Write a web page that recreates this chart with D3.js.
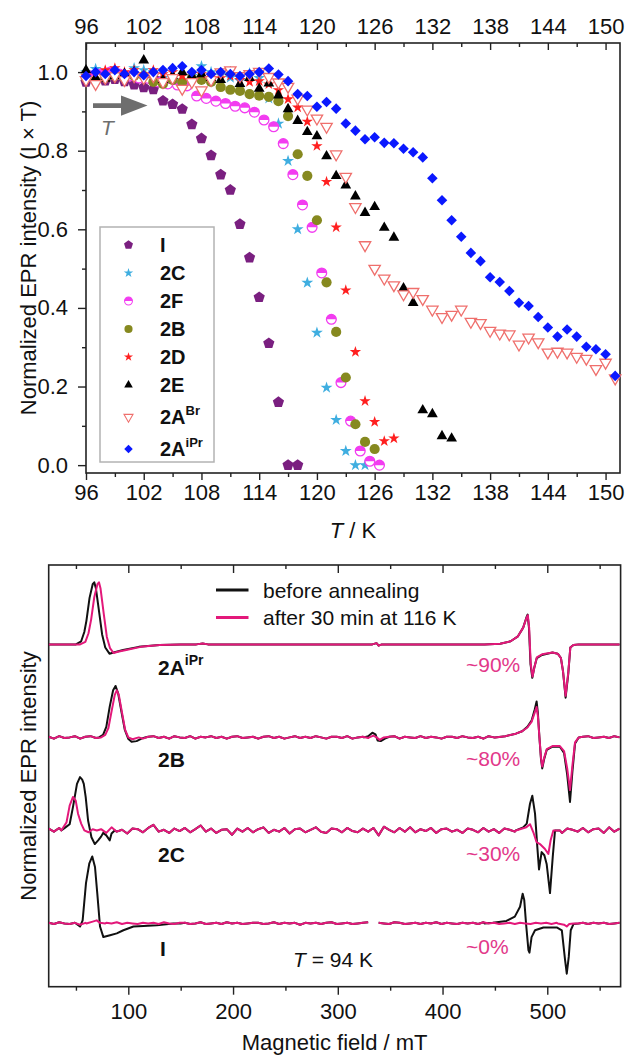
<!DOCTYPE html>
<html>
<head>
<meta charset="utf-8">
<script src="https://cdn.jsdelivr.net/npm/d3@7"></script>
<style>
  body { margin: 0; background: #fff; }
  svg { display: block; font-family: "Liberation Sans", Arial, Helvetica, sans-serif; }
</style>
</head>
<body>
<svg id="fig" width="627" height="1057"></svg>
<script>
// ================= Data: normalized EPR intensity (I x T) vs temperature =================
const seriesKeys = ["I", "2C", "2F", "2B", "2D", "2E", "2ABr", "2AiPr"];
const seriesStart = { "I": 96, "2C": 96, "2F": 96.5, "2B": 96, "2D": 96, "2E": 96, "2ABr": 96, "2AiPr": 96 }; // K, 1 K steps

const valI = [0.975,0.985,0.978,0.982,0.976,0.968,0.961,0.956,0.927,0.918,0.906,0.867,0.831,0.788,0.739,0.700,
  0.613,0.528,0.427,0.310,0.160,0.000,0.000];
const val2C = [1.000,1.008,0.990,1.002,0.992,1.010,1.005,1.000,0.985,0.972,0.976,0.990,1.015,1.000,0.992,0.986,
  0.978,0.997,0.985,0.933,0.869,0.774,0.600,0.464,0.337,0.197,0.115,0.036,0.000,0.000];
const val2F = [0.990,0.995,1.000,0.995,0.990,0.985,0.984,0.975,0.970,0.967,0.965,0.939,0.933,0.926,0.920,0.913,
  0.909,0.898,0.878,0.861,0.818,0.739,0.662,0.605,0.489,0.371,0.210,0.112,0.036,0.010,0.000];
const val2B = [0.985,0.978,0.985,0.990,0.985,0.990,0.990,0.975,0.970,0.980,0.975,0.985,0.980,0.975,0.962,0.955,
  0.952,0.944,0.940,0.937,0.926,0.888,0.791,0.736,0.623,0.465,0.339,0.223,0.104,0.059,0.041];
const val2D = [0.990,0.995,1.005,1.010,1.000,1.005,0.995,1.005,0.995,1.000,0.990,0.995,0.995,0.990,0.985,0.990,
  0.980,0.975,0.977,0.969,0.954,0.931,0.910,0.874,0.812,0.721,0.605,0.445,0.288,0.163,0.110,0.061,0.068];
const val2E = [1.005,0.985,0.983,0.990,0.995,1.000,1.030,0.995,0.980,0.990,1.000,0.990,0.995,0.985,0.980,1.000,
  0.970,0.985,0.958,0.971,0.941,0.906,0.876,0.848,0.837,0.786,0.736,0.712,0.684,0.642,0.657,0.604,0.579,0.450,
  0.413,0.140,0.130,0.074,0.068];
const val2ABr = [0.980,0.970,0.985,0.990,0.980,0.990,0.985,0.990,0.975,0.985,0.958,0.975,0.954,0.980,1.000,1.005,
  0.990,0.995,1.001,0.988,0.974,0.963,0.933,0.905,0.882,0.861,0.791,0.734,0.657,0.560,0.500,0.475,0.458,0.435,
  0.441,0.423,0.396,0.377,0.383,0.396,0.365,0.362,0.342,0.335,0.333,0.307,0.325,0.313,0.287,0.289,0.287,0.276,
  0.271,0.245,0.261,0.221];
const val2AiPr = [0.990,1.000,0.995,1.005,0.995,1.000,0.992,1.000,1.005,1.010,1.015,1.000,1.005,0.995,1.000,0.995,
  0.990,0.995,1.000,1.009,0.994,0.977,0.944,0.939,0.912,0.924,0.907,0.869,0.851,0.829,0.834,0.820,0.819,0.805,
  0.796,0.783,0.730,0.674,0.623,0.581,0.540,0.519,0.478,0.466,0.443,0.413,0.405,0.377,0.350,0.327,0.345,0.327,
  0.301,0.295,0.282,0.227];
const seriesValues = { "I": valI, "2C": val2C, "2F": val2F, "2B": val2B, "2D": val2D, "2E": val2E, "2ABr": val2ABr, "2AiPr": val2AiPr };

const tempMajorTicks = [96,102,108,114,120,126,132,138,144,150];
const tempMinorTicks = [99,105,111,117,123,129,135,141,147];
const intMajorTicks = [0,0.2,0.4,0.6,0.8,1.0];
const intMinorTicks = [0.1,0.3,0.5,0.7,0.9];

// ================= Data: EPR spectra before / after annealing (T = 94 K) =================
const spectraRows = ["2AiPr", "2B", "2C", "I"];
const rowOffset = { "2AiPr": 4.5, "2B": 3.0, "2C": 1.5, "I": 0 };
const rowPercent = { "2AiPr": "~90%", "2B": "~80%", "2C": "~30%", "I": "~0%" };

// baseline noise, sampled every 5 mT starting at 24 mT
const noiseStartField = 24, noiseStepField = 5;
const noise2B = [0.01,-0.02,0.02,-0.01,0.00,0.02,-0.02,0.01,0.02,-0.01,
  0.01,-0.02,0.02,0.00,-0.01,0.02,-0.01,0.01,-0.02,0.01,
  0.02,-0.01,0.01,-0.02,0.02,0.00,-0.01,0.02,-0.02,0.01,
  0.00,0.02,-0.01,0.01,-0.02,0.01,0.02,-0.01,0.00,0.01,
  -0.02,0.01,0.02,-0.01,0.01,-0.02,0.00,0.02,-0.01,0.01,
  -0.01,0.02,0.00,-0.02,0.01,0.01,-0.01,0.02,-0.02,0.00,
  0.01,-0.01,0.02,0.00,-0.01,0.01,0.02,-0.02,0.01,0.00,
  -0.01,0.02,-0.01,0.01,0.00,-0.02,0.01,0.01,-0.01,0.02,
  0.00,-0.01,0.01,-0.02,0.02,0.00,0.01,-0.01,0.01,0.00,
  0.01,-0.01,0.02,0.00,-0.01,0.01,0.00,0.01,-0.01,0.00,
  0.01,-0.01,0.01,0.02,-0.01,0.00,0.01,-0.01,0.02,0.00];
const noise2C = [0.03,-0.02,0.04,-0.03,0.01,0.02,-0.04,0.03,0.00,-0.03,
  0.02,-0.04,0.05,-0.02,0.01,-0.05,0.03,0.02,-0.03,0.04,
  0.09,-0.02,0.01,-0.04,0.03,-0.01,0.04,-0.03,0.02,0.08,
  -0.02,0.03,-0.04,0.01,0.02,-0.07,0.03,-0.02,0.04,-0.03,
  0.02,0.05,-0.04,0.01,-0.02,0.04,-0.05,0.02,0.03,-0.03,
  0.01,0.05,-0.02,-0.04,0.03,0.02,-0.03,0.04,-0.01,-0.03,
  0.03,-0.02,0.04,-0.08,0.06,0.01,-0.03,0.04,-0.02,0.05,
  -0.03,0.02,-0.01,0.04,-0.04,0.02,0.03,-0.02,0.01,-0.04,
  0.03,0.01,-0.03,0.04,-0.02,0.02,-0.04,0.03,0.01,-0.02,
  0.02,-0.03,0.01,0.03,-0.02,0.04,-0.03,0.02,-0.04,0.03,
  0.01,-0.02,0.04,-0.03,0.02,0.03,-0.04,0.05,-0.02,0.03];
const noiseI = [0.01,-0.01,0.02,0.00,-0.01,0.01,-0.02,0.01,0.00,0.01,
  -0.01,0.01,0.00,0.02,-0.01,0.01,0.00,-0.01,0.01,0.00,
  0.01,-0.01,0.02,0.00,-0.01,0.01,0.01,-0.01,0.00,0.02,
  -0.01,0.00,0.01,-0.01,0.02,0.00,0.01,-0.01,0.00,0.01,
  0.01,-0.01,0.00,0.02,-0.01,0.01,0.00,0.01,-0.02,0.01,
  0.00,0.01,-0.01,0.01,0.02,-0.01,0.00,0.01,-0.01,0.00,
  0.01,0.02,-0.01,0.01,0.00,-0.01,0.02,0.01,-0.01,0.00,
  0.01,-0.01,0.01,0.00,0.02,-0.01,0.01,0.00,-0.01,0.01,
  0.00,0.01,-0.01,0.02,0.00,0.01,-0.01,0.00,0.01,-0.01,
  0.01,0.00,-0.01,0.01,0.00,0.01,-0.01,0.01,0.00,0.01,
  -0.01,0.00,0.01,-0.01,0.01,0.00,0.01,-0.01,0.00,0.01];
const rowNoise = { "2AiPr": null, "2B": noise2B, "2C": noise2C, "I": noiseI };

// spectral features [field (mT), intensity]; "before" = black, "after" = magenta
const before2AiPr = [
  [[50,0],[55,0.05],[58,0.2],[60,0.38],[63,0.75],[66,0.97],[67.5,1.0],[69,0.91],[72,0.54],[75,0.16],[78,-0.05],[82,-0.15],[86,-0.13],[95,-0.09],[110,-0.04],[130,-0.01],[150,0]],
  [[165,0],[171,0.015],[176,0]],
  [[333,0],[337,0.02],[339,-0.02],[342,0]],
  [[440,0],[455,0.01],[465,0.05],[472,0.13],[477,0.27],[480,0.43],[481.2,0.48],[482.5,0.27],[484,-0.32],[485.7,-0.54],[487.5,-0.38],[490,-0.22],[495,-0.17],[505,-0.13],[510,-0.15],[513,-0.22],[515,-0.43],[517.5,-0.86],[520,-0.48],[522,-0.05],[525,-0.01],[530,0]]
];
const after2AiPr = [
  [[54,0],[59,0.04],[62,0.18],[64.5,0.4],[67.5,0.76],[70.5,0.97],[72,1.0],[73.5,0.9],[76.5,0.5],[79.5,0.12],[82.5,-0.06],[86,-0.14],[90,-0.12],[98,-0.09],[112,-0.04],[130,-0.01],[150,0]],
  [[165,0],[171,0.015],[176,0]],
  [[333,0],[337,0.02],[339,-0.02],[342,0]],
  [[440,0],[455,0.01],[465,0.05],[472,0.13],[477,0.27],[480,0.42],[481.4,0.47],[482.7,0.27],[484.2,-0.32],[485.9,-0.52],[487.7,-0.37],[490,-0.21],[495,-0.16],[505,-0.13],[510,-0.15],[513,-0.22],[515,-0.43],[517.5,-0.83],[520,-0.46],[522,-0.05],[525,-0.01],[530,0]]
];
const before2B = [
  [[72,0],[75.9,0.04],[79,0.17],[82.3,0.5],[85.5,0.76],[87.8,0.83],[90.3,0.71],[93.5,0.41],[96.7,0.12],[99.9,-0.02],[103.1,-0.07],[107.9,-0.06],[112.6,-0.02],[116,0]],
  [[325,0],[329,0.02],[333,0.075],[336,0.05],[338,-0.05],[341,-0.06],[345,-0.02],[348,0]],
  [[450,0],[460,0.02],[470,0.06],[476,0.1],[481,0.17],[485,0.27],[488,0.45],[489.8,0.58],[491,0.4],[492.5,0],[494,-0.35],[495.2,-0.5],[497,-0.35],[499.5,-0.2],[505,-0.15],[512,-0.15],[516,-0.25],[519,-0.6],[521.7,-1.04],[524,-0.55],[526.5,-0.1],[530,0]]
];
const after2B = [
  [[74,0],[78,0.04],[81,0.15],[84,0.42],[87,0.68],[89,0.76],[91,0.68],[94,0.4],[97,0.12],[100,0],[104,-0.03],[110,0]],
  [[330,0],[334,0.03],[337,0.0],[340,-0.04],[344,0]],
  [[450,0],[460,0.02],[470,0.06],[476,0.1],[481,0.16],[485,0.25],[488,0.4],[489.8,0.49],[491,0.35],[492.5,0],[494,-0.33],[495.2,-0.47],[497,-0.33],[499.5,-0.19],[505,-0.14],[512,-0.14],[516,-0.22],[519,-0.5],[521.7,-0.85],[524,-0.45],[526.5,-0.08],[530,0]]
];
const before2C = [
  [[36,0],[40,0.05],[44,0.1],[47.2,0.38],[51,0.75],[53.9,0.86],[56,0.82],[57.5,0.75],[59.3,0.54],[61.6,0.16],[64.8,-0.11],[68,-0.22],[71.2,-0.16],[74,-0.1],[76,-0.04],[79,-0.08],[82.3,-0.16],[84,-0.05],[87,0]],
  [[470,0],[477,0.05],[480.4,0.11],[483.5,0.43],[485.7,0.56],[488.3,0.27],[490.5,-0.27],[492.1,-0.63],[494.6,-0.35],[497.2,-0.4],[499.4,-0.54],[502.6,-1.01],[505.2,-0.43],[507.4,0],[512,0]]
];
const after2C = [
  [[36,0],[41,0.13],[44,0.4],[47.2,0.54],[49.8,0.48],[52,0.27],[55,0.11],[58,0],[62,-0.03],[66,0.02],[70,0]],
  [[470,0],[480,0.05],[483.5,0.1],[486.7,-0.03],[489.8,-0.19],[493,-0.22],[497.8,-0.3],[501,-0.38],[503.2,-0.16],[505.8,0],[512,0]]
];
const beforeI = [
  [[50,0],[53.9,-0.05],[56.4,0.05],[59.6,0.65],[62.8,0.97],[65.6,1.08],[68.2,0.91],[70.4,0.48],[73,-0.05],[76.2,-0.22],[82.6,-0.19],[89,-0.16],[95.3,-0.11],[104.9,-0.05],[114.4,-0.04],[127.2,-0.03],[143,0],[150,0]],
  [[440,0],[448,0.01],[461,0.04],[469,0.11],[474,0.27],[476.5,0.48],[478,0.38],[479.7,0],[482,-0.43],[483,-0.47],[485,-0.22],[488.3,-0.11],[496.3,-0.065],[509,-0.065],[513.9,-0.11],[517,-0.59],[518.6,-0.81],[520.5,-0.54],[522.4,-0.11],[525,-0.01],[530,0]]
];
const afterI = [
  [[60,0],[66,0.03],[69.8,0.05],[73,0.01],[78,0]],
  [[510,0],[516,-0.02],[518.6,-0.05],[521,-0.01],[525,0]]
];
const rowBefore = { "2AiPr": before2AiPr, "2B": before2B, "2C": before2C, "I": beforeI };
const rowAfter = { "2AiPr": after2AiPr, "2B": after2B, "2C": after2C, "I": afterI };
const rowGaps = { "I": [[332, 338]] }; // field ranges with no recorded signal

const fieldMajorTicks = [100,200,300,400,500];
const fieldMinorTicks = [50,150,250,350,450,550];

// ================= Styling =================
const COL = {
  "I": "#7a1f80", "2C": "#3faee0", "2F": "#f23cf0", "2B": "#86891f",
  "2D": "#ff1f1f", "2E": "#000000", "2ABr": "#ef6f6c", "2AiPr": "#0a18ff"
};
const lineBefore = "#111111", lineAfter = "#e3187a", pctColor = "#e2388a";
const arrowGray = "#6e6e6e";

const svg = d3.select("#fig");

// ================= Panel (a) =================
const ax = d3.scaleLinear().domain([96, 151.5]).range([86, 620]);
const ay = d3.scaleLinear().domain([-0.02, 1.074]).range([473, 43]);
const pa = svg.append("g");

pa.append("rect").attr("x", ax.range()[0]).attr("y", ay.range()[1])
  .attr("width", ax.range()[1] - ax.range()[0]).attr("height", ay.range()[0] - ay.range()[1])
  .attr("fill", "none").attr("stroke", "#222").attr("stroke-width", 1.6);

function styleAxis(g, fs) {
  g.select(".domain").remove();
  g.selectAll("line").attr("stroke", "#222").attr("stroke-width", 1.4);
  g.selectAll("text").attr("font-size", fs).attr("fill", "#111").attr("font-family", null);
}
// bottom
pa.append("g").attr("transform", `translate(0,${ay.range()[0]})`)
  .call(d3.axisBottom(ax).tickValues(tempMajorTicks).tickSize(7).tickPadding(4).tickFormat(d3.format("d")))
  .call(g => styleAxis(g, 22));
pa.append("g").attr("transform", `translate(0,${ay.range()[0]})`)
  .call(d3.axisBottom(ax).tickValues(tempMinorTicks).tickSize(4).tickFormat(""))
  .call(g => styleAxis(g, 22));
// top (ticks inward)
pa.append("g").attr("transform", `translate(0,${ay.range()[1]})`)
  .call(d3.axisTop(ax).tickValues(tempMajorTicks).tickSize(-7).tickPadding(9).tickFormat(d3.format("d")))
  .call(g => styleAxis(g, 22));
pa.append("g").attr("transform", `translate(0,${ay.range()[1]})`)
  .call(d3.axisTop(ax).tickValues(tempMinorTicks).tickSize(-4).tickFormat(""))
  .call(g => styleAxis(g, 22));
// left
pa.append("g").attr("transform", `translate(${ax.range()[0]},0)`)
  .call(d3.axisLeft(ay).tickValues(intMajorTicks).tickSize(8).tickPadding(10).tickFormat(d3.format(".1f")))
  .call(g => styleAxis(g, 22));
pa.append("g").attr("transform", `translate(${ax.range()[0]},0)`)
  .call(d3.axisLeft(ay).tickValues(intMinorTicks).tickSize(4).tickFormat(""))
  .call(g => styleAxis(g, 22));

// axis titles
const tTitle = pa.append("text").attr("x", (ax.range()[0] + ax.range()[1]) / 2).attr("y", 538)
  .attr("text-anchor", "middle").attr("font-size", 22).attr("fill", "#111");
tTitle.append("tspan").attr("font-style", "italic").text("T");
tTitle.append("tspan").text(" / K");

const yTitleA = pa.append("text")
  .attr("transform", `translate(36,${(ay.range()[0] + ay.range()[1]) / 2}) rotate(-90)`)
  .attr("text-anchor", "middle").attr("font-size", 22).attr("fill", "#111");
yTitleA.append("tspan").text("Normalized EPR intensity (I × T)");

// warming arrow
pa.append("path")
  .attr("d", "M93,103.2 L121,103.2 L121,95.5 L147.5,105.6 L121,115.7 L121,108 L93,108 Z")
  .attr("fill", arrowGray);
pa.append("text").attr("x", 101).attr("y", 135).attr("font-size", 21).attr("font-style", "italic")
  .attr("fill", arrowGray).text("T");

// marker glyphs
function pentagonPath(r) {
  const p = d3.path();
  for (let k = 0; k < 5; k++) {
    const a = -Math.PI / 2 + k * 2 * Math.PI / 5;
    const x = r * Math.cos(a), y = r * Math.sin(a);
    if (k === 0) p.moveTo(x, y); else p.lineTo(x, y);
  }
  p.closePath();
  return p.toString();
}
function drawMarker(g, key) {
  const c = COL[key];
  switch (key) {
    case "I":
      g.append("path").attr("d", pentagonPath(5.9)).attr("fill", c); break;
    case "2C":
      g.append("path").attr("d", d3.symbol(d3.symbolStar, 44)()).attr("fill", c); break;
    case "2D":
      g.append("path").attr("d", d3.symbol(d3.symbolStar, 40)()).attr("fill", c); break;
    case "2F":
      g.append("circle").attr("r", 4.9).attr("fill", "#fff").attr("stroke", c).attr("stroke-width", 1.3);
      g.append("path").attr("d", d3.arc()({ innerRadius: 0, outerRadius: 4.9, startAngle: -Math.PI / 2, endAngle: Math.PI / 2 }))
        .attr("fill", c);
      break;
    case "2B":
      g.append("circle").attr("r", 5.1).attr("fill", c); break;
    case "2E":
      g.append("path").attr("d", d3.symbol(d3.symbolTriangle, 50)()).attr("fill", c); break;
    case "2ABr":
      g.append("path").attr("d", d3.symbol(d3.symbolTriangle, 56)()).attr("transform", "rotate(180)")
        .attr("fill", "#fff").attr("stroke", c).attr("stroke-width", 1.3); break;
    case "2AiPr":
      g.append("path").attr("d", d3.symbol(d3.symbolSquare, 56)()).attr("transform", "rotate(45)")
        .attr("fill", c); break;
  }
}

// data points
seriesKeys.forEach(key => {
  const vals = seriesValues[key];
  const pts = vals.map((v, i) => ({ t: seriesStart[key] + i, v }));
  const sg = pa.append("g");
  pts.forEach(d => {
    const g = sg.append("g").attr("transform", `translate(${ax(d.t)},${ay(d.v)})`);
    drawMarker(g, key);
  });
});

// legend
const legendRowsY = [245, 273, 301, 329, 357, 385, 417, 449];
pa.append("rect").attr("x", 100).attr("y", 227).attr("width", 114).attr("height", 235)
  .attr("fill", "#fff").attr("stroke", "#b3b3b3").attr("stroke-width", 1.5);
const legendLabels = {
  "I": ["I", ""], "2C": ["2C", ""], "2F": ["2F", ""], "2B": ["2B", ""], "2D": ["2D", ""],
  "2E": ["2E", ""], "2ABr": ["2A", "Br"], "2AiPr": ["2A", "iPr"]
};
seriesKeys.forEach((key, i) => {
  const y = legendRowsY[i];
  const mg = pa.append("g").attr("transform", `translate(128.5,${y}) scale(0.8)`);
  drawMarker(mg, key);
  const t = pa.append("text").attr("x", 160).attr("y", y + 7).attr("font-size", 20)
    .attr("font-weight", "bold").attr("fill", "#111");
  t.append("tspan").text(legendLabels[key][0]);
  if (legendLabels[key][1]) t.append("tspan").attr("dy", -9).attr("font-size", 13).text(legendLabels[key][1]);
});

// ================= Panel (b) =================
const bx = d3.scaleLinear().domain([24, 570]).range([48.7, 620.6]);
const by = d3.scaleLinear().domain([-1.02, 5.78]).range([986.7, 565]);
const pb = svg.append("g");

svg.append("defs").append("clipPath").attr("id", "clipB").append("rect")
  .attr("x", bx.range()[0]).attr("y", by.range()[1])
  .attr("width", bx.range()[1] - bx.range()[0]).attr("height", by.range()[0] - by.range()[1]);

pb.append("rect").attr("x", bx.range()[0]).attr("y", by.range()[1])
  .attr("width", bx.range()[1] - bx.range()[0]).attr("height", by.range()[0] - by.range()[1])
  .attr("fill", "none").attr("stroke", "#222").attr("stroke-width", 1.6);

pb.append("g").attr("transform", `translate(0,${by.range()[0]})`)
  .call(d3.axisBottom(bx).tickValues(fieldMajorTicks).tickSize(8).tickPadding(9).tickFormat(d3.format("d")))
  .call(g => styleAxis(g, 22));
pb.append("g").attr("transform", `translate(0,${by.range()[0]})`)
  .call(d3.axisBottom(bx).tickValues(fieldMinorTicks).tickSize(4).tickFormat(""))
  .call(g => styleAxis(g, 22));
pb.append("g").attr("transform", `translate(0,${by.range()[1]})`)
  .call(d3.axisTop(bx).tickValues(fieldMajorTicks).tickSize(-8).tickFormat(""))
  .call(g => styleAxis(g, 22));
pb.append("g").attr("transform", `translate(0,${by.range()[1]})`)
  .call(d3.axisTop(bx).tickValues(fieldMinorTicks).tickSize(-4).tickFormat(""))
  .call(g => styleAxis(g, 22));

pb.append("text").attr("x", (bx.range()[0] + bx.range()[1]) / 2).attr("y", 1050)
  .attr("text-anchor", "middle").attr("font-size", 22).attr("fill", "#111").text("Magnetic field / mT");
pb.append("text").attr("transform", `translate(36,776) rotate(-90)`)
  .attr("text-anchor", "middle").attr("font-size", 22).attr("fill", "#111").text("Normalized EPR intensity");

// assemble a trace: recorded features replace the noisy baseline in their field range
function buildTrace(noise, segments, gaps) {
  const inRange = (f, lo, hi) => f >= lo && f <= hi;
  const pts = [];
  const nNoise = (noise || noise2B).length;
  for (let i = 0; i < nNoise; i++) {
    const f = noiseStartField + i * noiseStepField;
    if (segments.some(s => inRange(f, s[0][0], s[s.length - 1][0]))) continue;
    if (gaps && gaps.some(g => inRange(f, g[0], g[1]))) continue;
    pts.push([f, noise ? noise[i] : 0]);
  }
  segments.forEach(s => s.forEach(p => pts.push(p)));
  if (gaps) gaps.forEach(g => pts.push([(g[0] + g[1]) / 2, NaN]));
  pts.sort((a, b) => a[0] - b[0]);
  return pts;
}

const traces = pb.append("g").attr("clip-path", "url(#clipB)");
spectraRows.forEach(row => {
  const off = rowOffset[row];
  const line = d3.line().defined(d => !isNaN(d[1])).x(d => bx(d[0])).y(d => by(off + d[1]));
  const gaps = rowGaps[row];
  traces.append("path").attr("d", line(buildTrace(rowNoise[row], rowBefore[row], gaps)))
    .attr("fill", "none").attr("stroke", lineBefore).attr("stroke-width", 2).attr("stroke-linejoin", "round");
  traces.append("path").attr("d", line(buildTrace(rowNoise[row], rowAfter[row], gaps)))
    .attr("fill", "none").attr("stroke", lineAfter).attr("stroke-width", 2).attr("stroke-linejoin", "round");
});

// row labels and remaining-signal percentages
const rowLabelY = { "2AiPr": 675, "2B": 766.5, "2C": 861.5, "I": 956 };
const rowPctY = { "2AiPr": 671.5, "2B": 766, "2C": 860.5, "I": 954 };
const rowLabelText = { "2AiPr": ["2A", "iPr"], "2B": ["2B", ""], "2C": ["2C", ""], "I": ["I", ""] };
spectraRows.forEach(row => {
  const t = pb.append("text").attr("x", row === "I" ? 160 : 158).attr("y", rowLabelY[row])
    .attr("font-size", 21).attr("font-weight", "bold").attr("fill", "#111");
  t.append("tspan").text(rowLabelText[row][0]);
  if (rowLabelText[row][1]) t.append("tspan").attr("dy", -10).attr("font-size", 14).text(rowLabelText[row][1]);
  pb.append("text").attr("x", 466).attr("y", rowPctY[row]).attr("font-size", 21)
    .attr("fill", pctColor).text(rowPercent[row]);
});

const tLab = pb.append("text").attr("x", 293).attr("y", 966.5).attr("font-size", 21).attr("fill", "#111");
tLab.append("tspan").attr("font-style", "italic").text("T");
tLab.append("tspan").text(" = 94 K");

// legend
const legB = [
  { label: "before annealing", color: lineBefore, y: 590 },
  { label: "after 30 min at 116 K", color: lineAfter, y: 617.5 }
];
legB.forEach(d => {
  pb.append("line").attr("x1", 216).attr("x2", 248.5).attr("y1", d.y).attr("y2", d.y)
    .attr("stroke", d.color).attr("stroke-width", 3);
  pb.append("text").attr("x", 263).attr("y", d.y + 7.5).attr("font-size", 21).attr("fill", "#111").text(d.label);
});
</script>
</body>
</html>
